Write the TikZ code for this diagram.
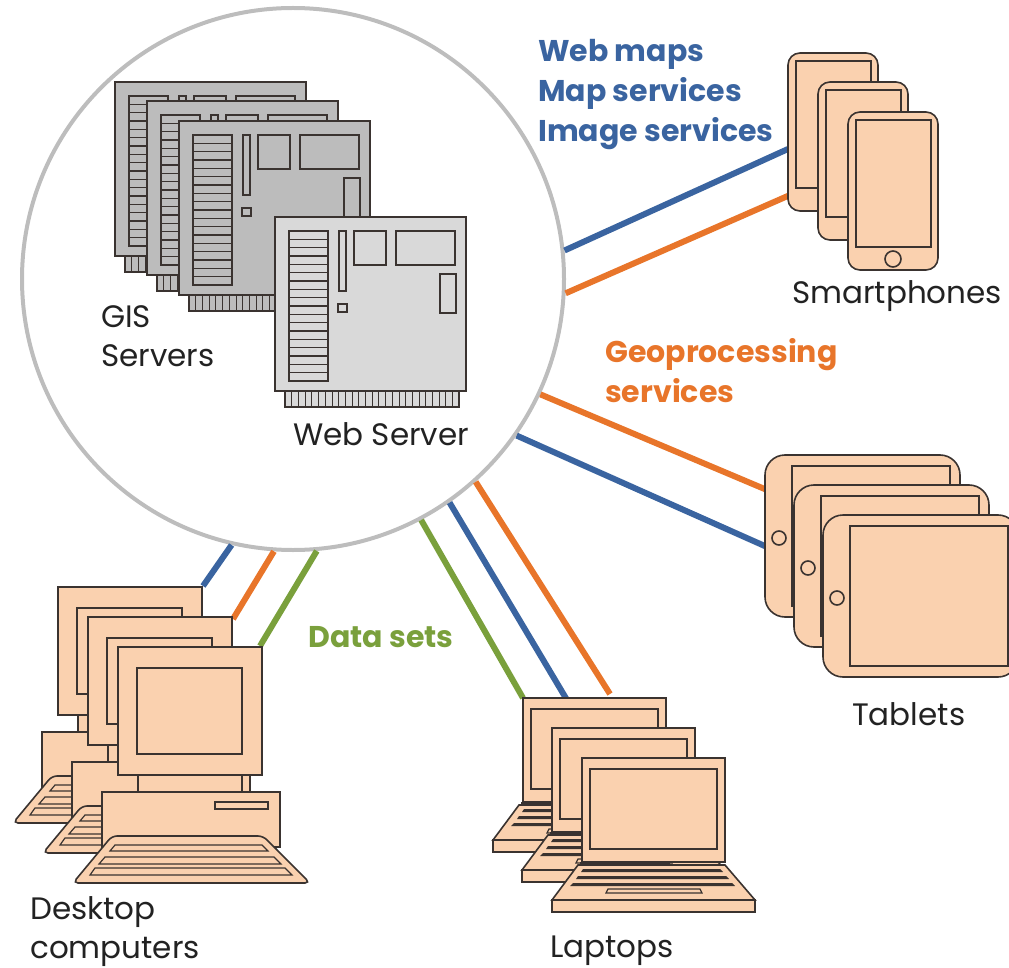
\documentclass[tikz,border=0pt]{standalone}
\usepackage{fontspec}
\setmainfont{Poppins}
\usepackage{xcolor}
\usepackage{tikz}

\definecolor{ringgray}{HTML}{BDBDBD}
\definecolor{webblue}{HTML}{3A64A0}
\definecolor{geoorange}{HTML}{E8752A}
\definecolor{datagreen}{HTML}{7AA03C}
\definecolor{peach}{HTML}{FAD1AF}
\definecolor{outline}{HTML}{3A3330}
\definecolor{serverback}{HTML}{BCBCBC}
\definecolor{serverfront}{HTML}{D9D9D9}
\definecolor{captiontext}{HTML}{222222}

\begin{document}
\begin{tikzpicture}[
        x=1pt, y=-1pt,
        hub/.style={
            circle,
            draw=ringgray,
            line width=4pt,
            minimum size=542pt,
            inner sep=0pt
        },
        link/.style={line width=6pt},
        weblink/.style={link, draw=webblue},
        geolink/.style={link, draw=geoorange},
        datalink/.style={link, draw=datagreen},
        gadget/.style={draw=outline, fill=peach, line width=1.6pt},
        detail/.style={draw=outline, line width=1.2pt},
        caption/.style={
            font=\fontsize{31}{39}\selectfont,
            text=captiontext,
            align=left,
            inner sep=0pt,
            anchor=base west
        },
        service/.style={
            font=\fontsize{30}{40}\selectfont\bfseries,
            align=left,
            inner sep=0pt,
            anchor=base west
        },
        % server board, #1 = fill colour
        pics/board/.style={code={
            \draw[detail, fill=#1] (10,174) rectangle (184,190);
            \foreach \t in {1,...,25}
                \draw[detail, line width=0.8pt] (10+\t*6.7,174) -- ++(0,16);
            \draw[detail, fill=#1] (0,0) rectangle (191,174);
            \draw[detail] (14,14) rectangle (53,164);
            \foreach \r in {1,...,17}
                \draw[detail] (14,14+\r*8.33) -- (53,14+\r*8.33);
            \draw[detail] (64,14) rectangle (71,74);
            \draw[detail] (63,87) rectangle (72,95);
            \draw[detail] (79,14) rectangle (111,48);
            \draw[detail] (121,14) rectangle (180,48);
            \draw[detail] (165,57) rectangle (181,96);
        }},
        pics/phone/.style={code={
            \draw[gadget, rounded corners=12pt] (0,0) rectangle (90,158);
            \draw[gadget] (8,8) rectangle (83,135);
            \draw[gadget] (45,147) circle (8pt);
        }},
        pics/tablet/.style={code={
            \draw[gadget, rounded corners=20pt] (0,0) rectangle (195,162);
            \draw[gadget] (27,11) rectangle (185,151);
            \draw[gadget] (14,83) circle (7pt);
        }},
        pics/laptop/.style={code={
            \draw[gadget] (-30,142) rectangle (173,154);
            \draw[gadget] (-4,107) -- (143,107) -- (173,142) -- (-30,142) -- cycle;
            \fill[outline] (-2,104) rectangle (88,107.5);
            \foreach \la/\lb/\ra/\rb/\ya/\yb in {1/-1/138/141/111/114,
                    -4/-6/144/147/118/121, -9/-12/150/153/125/128}
                \fill[outline] (\la,\ya) -- (\ra,\ya) -- (\rb,\yb) -- (\lb,\yb) -- cycle;
            \draw[detail] (26,131) -- (118,131) -- (120,135) -- (24,135) -- cycle;
            \draw[gadget] (0,0) rectangle (143,104);
            \draw[gadget] (8,11) rectangle (135,91);
        }},
        pics/desktop/.style={code={
            \draw[gadget] (20,128) rectangle (132,146);
            \draw[gadget] (124,128) -- (124,146);
            \draw[gadget] (-16,145) rectangle (162,200);
            \draw[gadget] (97,155) rectangle (150,162);
            \draw[gadget, rounded corners=5pt] (-6,189) -- (145,189) -- (192,236) -- (-45,236) -- cycle;
            \foreach \la/\lb/\ra/\rb/\ya/\yb in {-3/-8/144/150/198/204,
                    -13/-19/156/163/210/217, -23/-28/167/174/221/228}
                \draw[detail] (\la,\ya) -- (\ra,\ya) -- (\rb,\yb) -- (\lb,\yb) -- cycle;
            \draw[gadget] (0,0) rectangle (144,128);
            \draw[gadget] (19,21) rectangle (124,107);
        }}
    ]

    \useasboundingbox (0,0) rectangle (1009,968);

    % ---------- Server room ----------
    \node[hub] (hub) at (293,279) {};

    \foreach \bx/\by in {115/82, 147/101, 179/121}
        \pic at (\bx,\by) {board=serverback};
    \pic at (275,217) {board=serverfront};

    % base of a multi-line caption = last line
    \node[caption] (gis) at (101,366) {GIS\\Servers};
    \node[caption] (web) at (293,445) {Web Server};

    % ---------- Connector ends on the clients ----------
    \coordinate (phoneweb)   at (788,149);
    \coordinate (phonegeo)   at (790,195);
    \coordinate (tabletgeo)  at (767,490);
    \coordinate (tabletweb)  at (767,547);
    \coordinate (laptopdata) at (523,698);
    \coordinate (laptopweb)  at (567,700);
    \coordinate (laptopgeo)  at (610,694);
    \coordinate (deskweb)    at (203,586);
    \coordinate (deskgeo)    at (233,619);
    \coordinate (deskdata)   at (260,646);

    \draw[weblink]  (hub.6.7)   -- (phoneweb);
    \draw[geolink]  (hub.357.9) -- (phonegeo);
    \draw[geolink]  (hub.335.5) -- (tabletgeo);
    \draw[weblink]  (hub.325.8) -- (tabletweb);
    \draw[geolink]  (hub.312.9) -- (laptopgeo);
    \draw[weblink]  (hub.305.6) -- (laptopweb);
    \draw[datalink] (hub.298.3) -- (laptopdata);
    \draw[datalink] (hub.275.6) -- (deskdata);
    \draw[geolink]  (hub.266.3) -- (deskgeo);
    \draw[weblink]  (hub.257.2) -- (deskweb);

    % ---------- Clients ----------
    \foreach \px/\py in {788/53, 818/82, 848/112}
        \pic at (\px,\py) {phone};
    \foreach \px/\py in {765/455, 794/485, 823/515}
        \pic at (\px,\py) {tablet};
    \foreach \px/\py in {523/698, 552/728, 582/758}
        \pic at (\px,\py) {laptop};
    \foreach \px/\py in {58/587, 88/617, 118/647}
        \pic at (\px,\py) {desktop};

    \node[caption] (phones)  at (792,303) {Smartphones};
    \node[caption] (tablets) at (852,725) {Tablets};
    \node[caption] (laptops) at (550,957) {Laptops};
    \node[caption] (desks)   at (30,958)  {Desktop\\computers};

    % ---------- Service labels ----------
    \node[service, text=webblue]   (webserv)  at (538,142) {Web maps\\Map services\\Image services};
    \node[service, text=geoorange] (geoserv)  at (605,402) {Geoprocessing\\services};
    \node[service, text=datagreen] (dataserv) at (308,647) {Data sets};

\end{tikzpicture}
\end{document}
